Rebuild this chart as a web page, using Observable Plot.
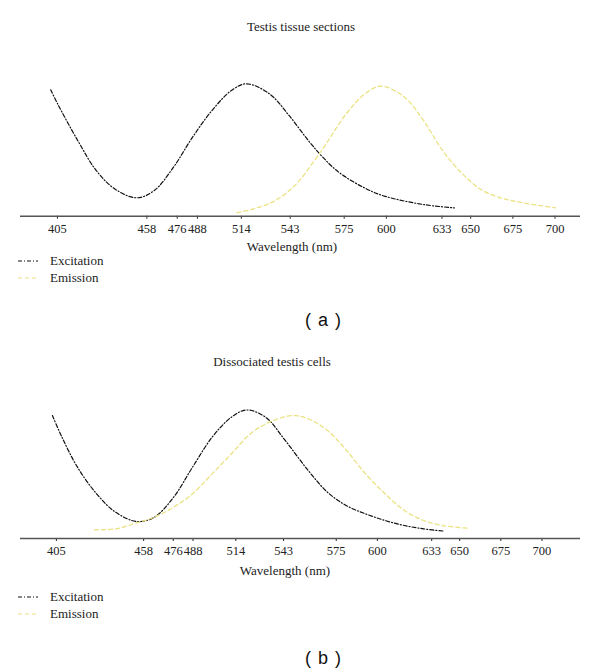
<!DOCTYPE html>
<html><head><meta charset="utf-8">
<script src="https://cdn.jsdelivr.net/npm/d3@7"></script>
<script src="https://cdn.jsdelivr.net/npm/@observablehq/plot@0.6"></script>
<style>
body{margin:0;background:#fff;width:600px;height:671px;position:relative;overflow:hidden;font-family:"Liberation Serif","DejaVu Serif",serif;color:#222;}
.abs{position:absolute;white-space:nowrap;line-height:16px;}
.title{font-size:13px;transform:translateX(-50%);}
.xlabel{font-size:13px;transform:translateX(-50%);}
.leg{font-size:13px;left:18px;display:flex;align-items:center;}
.leg svg{margin-right:12px;}
.cap{font-family:"Liberation Sans",Arial,sans-serif;font-size:18px;line-height:20px;transform:translateX(-50%);word-spacing:2px;color:#111;}
.panel{position:absolute;left:0;}
</style></head><body>
<script>
// ---- data ----
const tickValues = [405, 458, 476, 488, 514, 543, 575, 600, 633, 650, 675, 700];

// Panel (a): Testis tissue sections
const excA_wl  = [401, 405, 417, 428, 439.4, 452.2, 462.4, 473.8, 485.1, 496.6, 508.1, 517.1, 530.7, 542.3, 553.7, 562, 572, 587.6, 599.3, 622, 640.3];
const excA_val = [0.955, 0.851, 0.572, 0.345, 0.202, 0.139, 0.194, 0.370, 0.597, 0.798, 0.949, 1.0, 0.924, 0.761, 0.572, 0.450, 0.330, 0.210, 0.150, 0.088, 0.063];
const emA_wl   = [511.5, 530.7, 544.4, 560.4, 576.4, 587.6, 597, 610.8, 622, 633.3, 644.9, 656.3, 667.7, 678.9, 690.5, 700.3];
const emA_val  = [0.026, 0.096, 0.215, 0.474, 0.776, 0.927, 0.982, 0.899, 0.723, 0.496, 0.323, 0.200, 0.139, 0.106, 0.081, 0.063];

// Panel (b): Dissociated testis cells
const excB_wl  = [402.6, 408.4, 417.8, 429.4, 440.9, 454, 464.5, 476.2, 487.7, 499.6, 511.3, 520.5, 532.1, 544, 558, 569.7, 581.3, 592.8, 604.7, 616.4, 628.1, 640.8];
const excB_val = [0.957, 0.788, 0.555, 0.348, 0.205, 0.132, 0.166, 0.321, 0.555, 0.788, 0.944, 1.0, 0.944, 0.763, 0.529, 0.360, 0.255, 0.192, 0.140, 0.101, 0.075, 0.057];
const emB_wl   = [428.2, 440.9, 452.8, 464.5, 476.2, 487.7, 499.6, 511.3, 522.9, 534.5, 548.5, 558, 569.7, 581.3, 592.8, 604.7, 616.4, 628.1, 639.6, 654.5];
const emB_val  = [0.068, 0.075, 0.118, 0.166, 0.244, 0.348, 0.503, 0.659, 0.815, 0.905, 0.957, 0.932, 0.840, 0.685, 0.503, 0.348, 0.218, 0.140, 0.101, 0.080];

const titles = ["Testis tissue sections", "Dissociated testis cells"];
const seriesNames = ["Excitation", "Emission"];
const xLabel = "Wavelength (nm)";
const captions = ["( a )", "( b )"];

// ---- styles ----
const EXC_COLOR = "#111", EXC_DASH = "4,2,1,2";
const EM_COLOR = "#ebe284", EM_DASH = "4,3";

function rows(wl, val) { return wl.map((w, i) => ({wl: w, v: val[i]})); }

function panel(exc, em, xDomain, top, marginTop, plotH) {
  const chart = Plot.plot({
    width: 600,
    height: marginTop + plotH + 25,
    marginLeft: 20, marginRight: 20, marginTop: marginTop, marginBottom: 25,
    style: {fontFamily: '"Liberation Serif","DejaVu Serif",serif', fontSize: "12.5px", color: "#222", background: "transparent"},
    x: {domain: xDomain, ticks: tickValues, tickSize: 3, tickPadding: 5, label: null, tickFormat: d => String(d)},
    y: {domain: [0, 1], axis: null},
    marks: [
      Plot.ruleY([0], {stroke: "#555", strokeWidth: 1.5}),
      Plot.line(exc, {x: "wl", y: "v", stroke: EXC_COLOR, strokeWidth: 1.2, strokeDasharray: EXC_DASH, curve: "catmull-rom"}),
      Plot.line(em, {x: "wl", y: "v", stroke: EM_COLOR, strokeWidth: 1.3, strokeDasharray: EM_DASH, curve: "catmull-rom"})
    ]
  });
  const wrap = document.createElement("div");
  wrap.className = "panel";
  wrap.style.top = top + "px";
  wrap.appendChild(chart);
  document.body.appendChild(wrap);
}

function text(cls, str, left, centerY, h = 16) {
  const d = document.createElement("div");
  d.className = "abs " + cls;
  d.textContent = str;
  if (left !== null) d.style.left = left + "px";
  d.style.top = (centerY - h / 2) + "px";
  document.body.appendChild(d);
  return d;
}

function legendRow(name, color, dash, centerY) {
  const d = document.createElement("div");
  d.className = "abs leg";
  d.style.top = (centerY - 8) + "px";
  d.innerHTML = `<svg width="20" height="16"><line x1="0" x2="20" y1="8" y2="8" stroke="${color}" stroke-width="1.2" stroke-dasharray="${dash}"/></svg><span>${name}</span>`;
  document.body.appendChild(d);
}

// Panel (a)
text("title", titles[0], 301, 27);
panel(rows(excA_wl, excA_val), rows(emA_wl, emA_val), [383.1, 715.1], 40, 43.3, 132.4);
text("xlabel", xLabel, 292, 247);
legendRow(seriesNames[0], EXC_COLOR, EXC_DASH, 261);
legendRow(seriesNames[1], EM_COLOR, EM_DASH, 277.5);
text("cap", captions[0], 323, 320, 20);

// Panel (b)
text("title", titles[1], 272, 362);
panel(rows(excB_wl, excB_val), rows(emB_wl, emB_val), [383.2, 723.4], 380, 29.5, 128.5);
text("xlabel", xLabel, 285, 571);
legendRow(seriesNames[0], EXC_COLOR, EXC_DASH, 597);
legendRow(seriesNames[1], EM_COLOR, EM_DASH, 614);
text("cap", captions[1], 323, 658, 20);
</script>
</body></html>
